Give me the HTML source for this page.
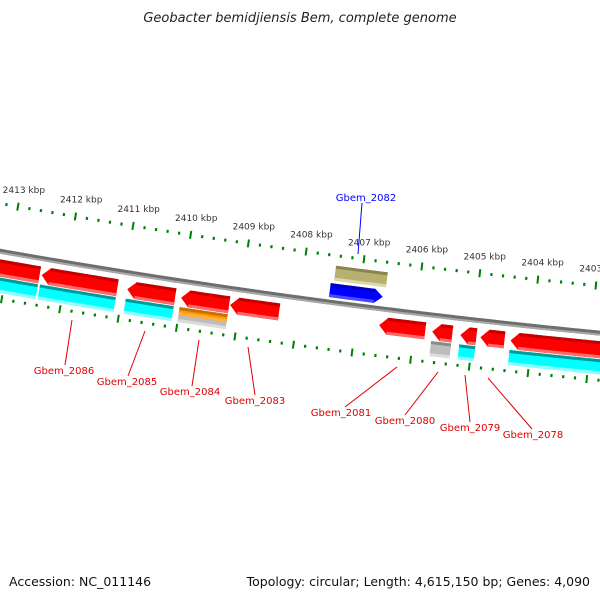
<!DOCTYPE html>
<html><head><meta charset="utf-8"><style>
html,body{margin:0;padding:0;background:#fff;}
svg{display:block;font-family:"DejaVu Sans","Liberation Sans",sans-serif;}
</style></head><body>
<svg id="map" width="600" height="600" viewBox="0 0 600 600">
<rect width="600" height="600" fill="#fff"/>
<text x="300" y="22" text-anchor="middle" font-size="13" font-style="italic" fill="#222">Geobacter bemidjiensis Bem, complete genome</text>
<text x="9" y="586" font-size="12.5" fill="#111">Accession: NC_011146</text>
<text x="590" y="586" text-anchor="end" font-size="12.5" fill="#111">Topology: circular; Length: 4,615,150 bp; Genes: 4,090</text>
<g id="layer"></g>
</svg>
<script>
// ---- data ----
const tickKbp = [2414,2413,2412,2411,2410,2409,2408,2407,2406,2405,2404,2403,2402];
const geneNames = ["gene-a","Gbem_2086","Gbem_2085","Gbem_2084","Gbem_2083","Gbem_2081","Gbem_2080","Gbem_2079","Gbem_2078","gene-j"];
const geneStarts = [2412436,2411097,2410102,2409175,2408317,2405812,2405349,2404937,2404456,2402483];
const geneEnds   = [2413568,2412401,2410926,2410000,2409158,2406601,2405692,2405211,2404868,2404353];
const cdsStarts = [2412436,2411097,2410102,2404937,2402483];
const cdsEnds   = [2413568,2412401,2410926,2405211,2404353];
const greyStarts = [2409175,2405349];
const greyEnds   = [2410000,2405692];
const orangeStarts = [2409175];
const orangeEnds   = [2410000];
const fwdStarts = [2406601];
const fwdEnds   = [2407511];
const oliveStarts = [2406567];
const oliveEnds   = [2407459];

// ---- geometry ----
const CX=1343, CY=-7345, R=7714, PHI0=-0.1737, RAD_PER_BP=7.61e-6, REF=2413000;
function phi(bp){return PHI0+(REF-bp)*RAD_PER_BP;}
function pt(bp,off){const p=phi(bp),r=R+off;return [CX+r*Math.sin(p),CY+r*Math.cos(p)];}
const NS="http://www.w3.org/2000/svg";
const layer=document.getElementById('layer');
function mk(tag,attrs){const e=document.createElementNS(NS,tag);for(const k in attrs)e.setAttribute(k,attrs[k]);layer.appendChild(e);return e;}
function arcPts(b1,b2,off){const pts=[];const n=Math.max(2,Math.ceil(Math.abs(b2-b1)/100));for(let i=0;i<=n;i++){pts.push(pt(b1+(b2-b1)*i/n,off));}return pts;}
function band(b1,b2,o1,o2){const a=arcPts(b1,b2,o1),b=arcPts(b2,b1,o2);return a.concat(b).map(p=>p[0].toFixed(2)+","+p[1].toFixed(2)).join(" ");}
// arrow shape: tip at tipBp; dir -1 tip at high bp (left), +1 tip at low bp (right)
function arrowPts(s,e,o1,o2,tipHigh){const head=140;const pts=[];
  if(tipHigh){const hb=Math.max(s,e-head);
    arcPts(s,hb,o1).forEach(p=>pts.push(p));pts.push(pt(e,(o1+o2)/2));arcPts(hb,s,o2).forEach(p=>pts.push(p));}
  else{const hb=Math.min(e,s+head);
    arcPts(e,hb,o1).forEach(p=>pts.push(p));pts.push(pt(s,(o1+o2)/2));arcPts(hb,e,o2).forEach(p=>pts.push(p));}
  return pts.map(p=>p[0].toFixed(2)+","+p[1].toFixed(2)).join(" ");}
function feature(name,s,e,o1,o2,base,dark,light,arrow,tipHigh){
  let el;
  if(arrow){el=mk('polygon',{points:arrowPts(s,e,o1,o2,tipHigh),fill:base});}
  else{el=mk('polygon',{points:band(s,e,o1,o2),fill:base});}
  
  
  const hs=arrow?(tipHigh?0:140):0, he=arrow?(tipHigh?140:0):0;
  const t=mk('polygon',{points:band(s+hs,e-he,o1,o1+3),fill:dark});
  
  
  const b=mk('polygon',{points:band(s+hs,e-he,o2-3,o2),fill:light});
  
  
}

// backbone
function arcPath(off){const pts=arcPts(2414500,2401500,off);return "M"+pts.map(p=>p[0].toFixed(2)+","+p[1].toFixed(2)).join(" L");}
let bb=mk('path',{d:arcPath(0),fill:'none',stroke:'#6e6e6e','stroke-width':5});


let bb2=mk('path',{d:arcPath(1.5),fill:'none',stroke:'#a8a8a8','stroke-width':2});



// ticks
for(let bp=2414000; bp>=2402000; bp-=200){
  const major=(bp%1000===0);
  [-47,47].forEach(off=>{
    const L=major?4:1.5;
    const a=pt(bp,off-L),b=pt(bp,off+L);
    const tk=mk('line',{x1:a[0],y1:a[1],x2:b[0],y2:b[1],stroke:'#008000','stroke-width':major?2:2.2});
    
    
  });
}
tickKbp.forEach(k=>{
  const p=pt(k*1000,-64);
  const t=mk('text',{x:p[0]+3,y:p[1]+3,'text-anchor':'middle','font-size':9,fill:'#333'});
  t.textContent=k+" kbp";
  
  
});

// features
geneStarts.forEach((s,i)=>feature('gene-'+geneNames[i],s,geneEnds[i],8,25,'#ff0000','#c40000','#ff6a6a',true,true));
cdsStarts.forEach((s,i)=>feature('cds-cyan',s,cdsEnds[i],26,41,'#00ffff','#009c9c','#8cffff',false,false));
greyStarts.forEach((s,i)=>feature('feature-grey',s,greyEnds[i],26,41,'#bdbdbd','#8a8a8a','#dcdcdc',false,false));
orangeStarts.forEach((s,i)=>feature('feature-orange',s,orangeEnds[i],26,34,'#ff9900','#c87000','#ffb040',false,false));
fwdStarts.forEach((s,i)=>feature('gene-Gbem_2082',s,fwdEnds[i],-19,-5,'#0000ff','#0000c0','#4a4aff',true,false));
oliveStarts.forEach((s,i)=>feature('feature-olive',s,oliveEnds[i],-37,-22,'#b8b06e','#8a8450','#dcd8a8',false,false));

// gene labels
const labels=[
 ["Gbem_2086",64,374,65,365,72,320,"#e00000"],
 ["Gbem_2085",127,385,128,376,145,331,"#e00000"],
 ["Gbem_2084",190,395,192,386,199,340,"#e00000"],
 ["Gbem_2083",255,404,255,395,248,347,"#e00000"],
 ["Gbem_2081",341,416,345,407,397,367,"#e00000"],
 ["Gbem_2080",405,424,405,415,438,372,"#e00000"],
 ["Gbem_2079",470,431,470,422,465,375,"#e00000"],
 ["Gbem_2078",533,438,532,429,488,378,"#e00000"],
 ["Gbem_2082",366,201,362,203,358,254,"#0000ff"]
];
labels.forEach(l=>{
  const ln=mk('line',{x1:l[3],y1:l[4],x2:l[5],y2:l[6],stroke:l[7],'stroke-width':1});
  
  
  const t=mk('text',{x:l[1],y:l[2],'text-anchor':'middle','font-size':10,fill:l[7]});
  t.textContent=l[0];
  
  
});
</script>
</body></html>
